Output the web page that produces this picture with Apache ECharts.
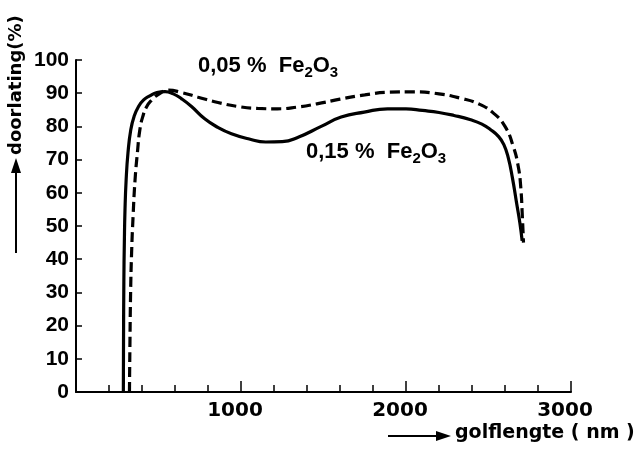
<!DOCTYPE html>
<html>
<head>
<meta charset="utf-8">
<script src="https://cdn.jsdelivr.net/npm/echarts@6/dist/echarts.min.js"></script>
<style>
  html, body { margin: 0; padding: 0; background: #fff; }
  #chart { width: 639px; height: 473px; }
</style>
</head>
<body>
<div id="chart"></div>
<script>
  // golflengte (nm) / doorlating (%) for 0,15 % Fe2O3 (solid)
  var solidX = [287, 288, 290, 293, 297, 304, 315, 332, 352, 379, 410, 447, 490, 540, 590, 640, 700, 780, 860, 942, 1050, 1150, 1250, 1350, 1486, 1607, 1747, 1888, 2000, 2100, 2200, 2291, 2392, 2460, 2513, 2560, 2593, 2620, 2645, 2670, 2690, 2704];
  var solidY = [0, 15, 33, 45, 55, 64, 72, 79, 83, 86, 88, 89.2, 90.2, 90.5, 89.8, 88.3, 86, 82.3, 79.7, 77.8, 76.2, 75.3, 75.4, 76.8, 80, 82.8, 84.3, 85.3, 85.3, 84.8, 84.2, 83.3, 82, 80.7, 79, 77, 74.5, 70.5, 64.5, 57, 51, 45.5];

  // 0,05 % Fe2O3 (dashed)
  var dashX = [324, 327, 331, 337, 346, 358, 372, 387, 405, 429, 460, 495, 560, 640, 740, 860, 980, 1100, 1220, 1340, 1460, 1600, 1750, 1900, 2050, 2200, 2330, 2440, 2530, 2600, 2650, 2680, 2695, 2705, 2712];
  var dashY = [0, 15, 30, 42, 53, 64, 72, 79, 83, 86, 88, 89.5, 90.9, 90.2, 88.8, 87.2, 86, 85.4, 85.3, 85.8, 86.8, 88.2, 89.5, 90.3, 90.4, 89.8, 88.5, 86.8, 84, 80, 74, 68, 62, 53, 45];

  var xLabels = [1000, 2000, 3000];
  var yTicks = [0, 10, 20, 30, 40, 50, 60, 70, 80, 90, 100];

  function pairs(xs, ys) {
    var out = [];
    for (var i = 0; i < xs.length; i++) {
      out.push([xs[i], ys[i]]);
    }
    return out;
  }

  var font = 'Liberation Sans, Arial, Helvetica, sans-serif';
  var wide = 'DejaVu Sans, Verdana, sans-serif';
  var subRich = {
    a: { fontSize: 22, fontWeight: 'bold', fontFamily: font, color: '#000', lineHeight: 28, verticalAlign: 'middle' },
    b: { fontSize: 15, fontWeight: 'bold', fontFamily: font, color: '#000', lineHeight: 28, verticalAlign: 'bottom' }
  };

  var myChart = echarts.init(document.getElementById('chart'), null, { renderer: 'canvas' });
  myChart.setOption({
    animation: false,
    backgroundColor: '#fff',
    grid: { left: 76, right: 68, top: 60, bottom: 81 },
    xAxis: {
      type: 'value',
      min: 0,
      max: 3000,
      interval: 1000,
      axisLine: { lineStyle: { color: '#000', width: 2 } },
      axisTick: { inside: true, length: 11, lineStyle: { color: '#000', width: 1.5 } },
      minorTick: { show: true, splitNumber: 5, length: 7, lineStyle: { color: '#000', width: 1.5 } },
      splitLine: { show: false },
      axisLabel: {
        margin: 9,
        fontSize: 20,
        fontWeight: 'bold',
        fontFamily: wide,
        color: '#000',
        padding: [0, 12, 0, 0],
        formatter: function (v) {
          return xLabels.indexOf(v) >= 0 ? String(v) : '';
        }
      }
    },
    yAxis: {
      type: 'value',
      min: 0,
      max: 100,
      interval: 10,
      axisLine: { lineStyle: { color: '#000', width: 2 } },
      axisTick: { inside: true, length: 6, lineStyle: { color: '#000', width: 1.5 } },
      splitLine: { show: false },
      axisLabel: {
        margin: 7,
        fontSize: 21,
        fontWeight: 'bold',
        fontFamily: font,
        color: '#000',
        formatter: function (v) {
          return yTicks.indexOf(v) >= 0 ? String(v) : '';
        }
      }
    },
    series: [
      {
        name: '0,15 % Fe2O3',
        type: 'line',
        data: pairs(solidX, solidY),
        smooth: 0.5,
        showSymbol: false,
        lineStyle: { color: '#000', width: 3.2 }
      },
      {
        name: '0,05 % Fe2O3',
        type: 'line',
        data: pairs(dashX, dashY),
        smooth: 0.5,
        showSymbol: false,
        lineStyle: { color: '#000', width: 3.2, type: [10, 5] }
      }
    ],
    graphic: [
      {
        type: 'text',
        left: 198, top: 55,
        style: { text: '{a|0,05 %  Fe}{b|2}{a|O}{b|3}', rich: subRich }
      },
      {
        type: 'text',
        left: 306, top: 141,
        style: { text: '{a|0,15 %  Fe}{b|2}{a|O}{b|3}', rich: subRich }
      },
      // x axis name with arrow
      {
        type: 'line',
        shape: { x1: 388, y1: 436, x2: 440, y2: 436 },
        style: { stroke: '#000', lineWidth: 2 }
      },
      {
        type: 'polygon',
        shape: { points: [[436, 431], [451, 436], [436, 441]] },
        style: { fill: '#000' }
      },
      {
        type: 'text',
        left: 455, top: 424,
        style: { text: 'golflengte ( nm )', fontSize: 19, fontWeight: 'bold', fontFamily: wide, fill: '#000' }
      },
      // y axis name with arrow
      {
        type: 'line',
        shape: { x1: 16, y1: 253, x2: 16, y2: 170 },
        style: { stroke: '#000', lineWidth: 2 }
      },
      {
        type: 'polygon',
        shape: { points: [[11, 173], [16, 158], [21, 173]] },
        style: { fill: '#000' }
      },
      {
        type: 'text',
        x: 16, y: 155,
        rotation: Math.PI / 2,
        style: { text: 'doorlating(%)', fontSize: 18, fontWeight: 'bold', fontFamily: wide, fill: '#000', align: 'left', verticalAlign: 'middle' }
      }
    ]
  });
</script>
</body>
</html>
